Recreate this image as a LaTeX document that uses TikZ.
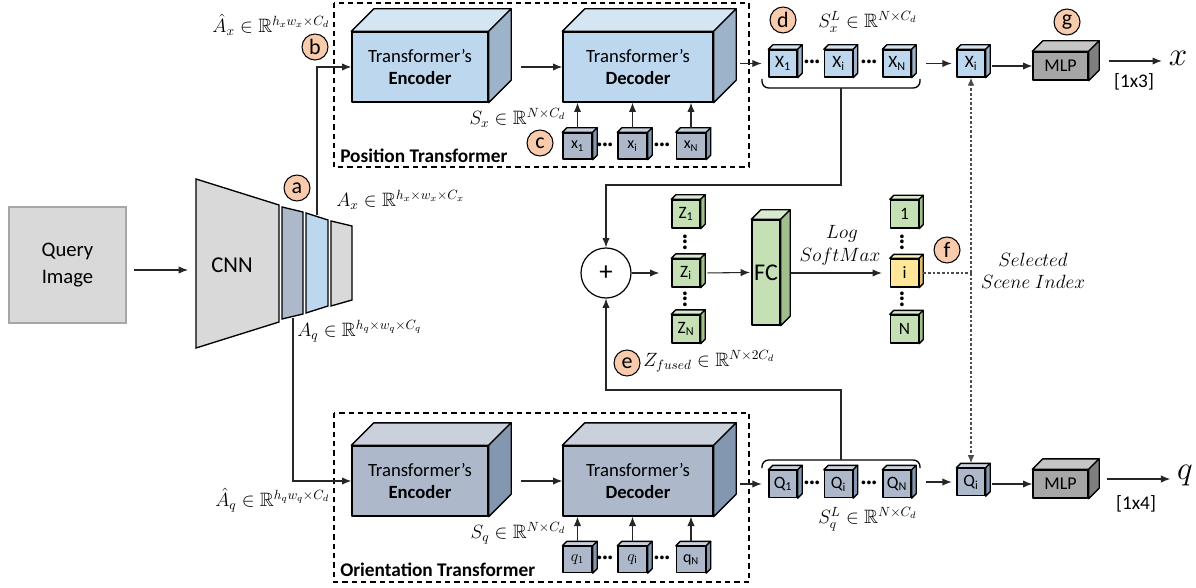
\documentclass[tikz,border=0pt]{standalone}
\usepackage{amsmath}
\usepackage{amssymb}
\usepackage{fontspec}
\setmainfont{Carlito}
\usetikzlibrary{arrows.meta}
\definecolor{lblue}{HTML}{BDD7EE}
\definecolor{lblueside}{HTML}{9DB3CA}
\definecolor{gblue}{HTML}{ADB9CA}
\definecolor{gblueside}{HTML}{8497B0}
\definecolor{lgreen}{HTML}{C5E0B4}
\definecolor{lgreenside}{HTML}{9FC08B}
\definecolor{lyellow}{HTML}{FFE699}
\definecolor{lyellowside}{HTML}{DCC070}
\definecolor{mgray}{HTML}{A6A6A6}
\definecolor{mgrayside}{HTML}{7F7F7F}
\definecolor{cnngray}{HTML}{D9D9D9}
\definecolor{peach}{HTML}{F8CBAD}
\newcommand\cuboid[7][]{%
  \node[cubefront, fill=#5, #1] (#2) at #3 {#7};
  \filldraw[cubeedge, fill=#5!65!white] (#2.north west) -- ++(#4,-#4) -- ([shift={(#4,-#4)}]#2.north east) -- (#2.north east) -- cycle;
  \filldraw[cubeedge, fill=#6] (#2.north east) -- ++(#4,-#4) -- ([shift={(#4,-#4)}]#2.south east) -- (#2.south east) -- cycle;
}
\newcommand\hdotsym{\bfseries ···}
\begin{document}
\begin{tikzpicture}[x=0.75pt,y=-0.75pt,
  arr/.style={-{Latex[length=7pt,width=5.5pt]}, line width=0.8pt, draw=black!85},
  cubeedge/.style={draw=black, line width=1pt, line join=round},
  cubefront/.style={cubeedge, inner sep=0pt, align=center},
  bigbox/.style={minimum width=102pt, minimum height=52.5pt, font=\fontsize{14}{17}\selectfont},
  decbox/.style={bigbox, minimum width=112.5pt},
  smallcube/.style={minimum width=21.75pt, minimum height=19.5pt, font=\fontsize{12}{12}\selectfont},
  xcube/.style={minimum width=21pt, minimum height=20.25pt, font=\fontsize{13}{13}\selectfont},
  zcube/.style={minimum width=21pt, minimum height=21pt, font=\fontsize{13}{13}\selectfont},
  mlpbox/.style={minimum width=41.25pt, minimum height=21pt, font=\fontsize{13.5}{13.5}\selectfont},
  fcbox/.style={minimum width=21pt, minimum height=78.75pt, font=\fontsize{18}{18}\selectfont},
  tag/.style={circle, draw=black, line width=0.8pt, fill=peach, minimum size=19.5pt, inner sep=0pt, font=\fontsize{16.5}{16.5}\selectfont},
  dashbox/.style={draw=black, line width=1pt, dash pattern=on 4pt off 3pt},
  dotline/.style={draw=black!70, line width=0.8pt, dash pattern=on 2pt off 1.5pt},
  lab/.style={inner sep=0pt, font=\fontsize{14.5}{17}\selectfont},
  dotsym/.style={inner sep=0pt, font=\fontsize{15}{15}\selectfont},
  vdotsym/.style={dotsym, rotate=90},
  title/.style={anchor=west, inner sep=0pt, font=\fontsize{14.5}{14.5}\selectfont\bfseries}]
\useasboundingbox (0,0) rectangle (1196,588);

% ---------- Query image and CNN ----------
\node[draw=black!35, line width=1.5pt, fill=cnngray, minimum width=87.75pt, minimum height=87pt,
      align=center, font=\fontsize{15.5}{20}\selectfont] (query) at (67.5,265) {Query\\Image};
\coordinate (cnnL) at (196,270);
\draw[arr, shorten <=5pt, shorten >=6pt] (query.east |- cnnL) -- (cnnL);
\filldraw[fill=cnngray, line width=1pt] (196,179) -- (279,205) -- (279,322) -- (196,348) -- cycle;
\node[font=\fontsize{17}{17}\selectfont] (cnn) at (232,265) {CNN};
\filldraw[fill=gblue, line width=1pt] (282,207) -- (303,212) -- (303,314) -- (282,319) -- cycle;
\filldraw[fill=lblue, line width=1pt] (306,213) -- (328,220) -- (328,306) -- (306,313) -- cycle;
\filldraw[fill=cnngray, line width=1pt] (331,221) -- (352,226) -- (352,300) -- (331,306) -- cycle;
\coordinate (l2top) at (317,215);
\coordinate (l1bot) at (293,318);
\node[tag] (ta) at (297,188) {a};

\node[lab, anchor=west] (lAx) at (336,200) {$A_x \in \mathbb{R}^{h_x\times w_x\times C_x}$};
\node[lab, anchor=west] (lAq) at (297,331) {$A_q \in \mathbb{R}^{h_q\times w_q\times C_q}$};
\node[lab, anchor=east] (lAhx) at (330,25) {$\hat{A}_x \in \mathbb{R}^{h_x w_x\times C_d}$};
\node[lab, anchor=east] (lAhq) at (330,500) {$\hat{A}_q \in \mathbb{R}^{h_q w_q\times C_d}$};
\node[tag] (tb) at (315,47) {b};

% ---------- Position transformer ----------
\draw[dashbox] (334,3) rectangle (749,167);
\node[title] (pt) at (340,156) {Position Transformer};
\cuboid[bigbox]{encX}{(420,67)}{22.5}{lblue}{lblueside}{Transformer’s\\\textbf{Encoder}}
\cuboid[decbox]{decX}{(638,67)}{22.5}{lblue}{lblueside}{Transformer’s\\\textbf{Decoder}}
\draw[arr] (l2top) |- (encX.west);
\draw[arr, shorten <=24pt] (encX.east) -- (decX.west);
\cuboid[smallcube]{x1}{(577.5,146)}{4.5}{gblue}{gblueside}{x\textsubscript{1}}
\cuboid[smallcube]{xi}{(632.5,146)}{4.5}{gblue}{gblueside}{x\textsubscript{i}}
\cuboid[smallcube]{xN}{(691,146)}{4.5}{gblue}{gblueside}{x\textsubscript{N}}
\node[dotsym] (dx1) at (605,147) {\hdotsym};
\node[dotsym] (dx2) at (662,147) {\hdotsym};
\foreach \n in {x1,xi,xN} \draw[arr, shorten <=3.5pt] (\n.north) -- (\n.north |- decX.south);
\node[lab, anchor=east] (lSx) at (566,118) {$S_x \in \mathbb{R}^{N\times C_d}$};
\node[tag] (tc) at (540,143) {c};

% ---------- Orientation transformer ----------
\draw[dashbox] (334,413) rectangle (749,582);
\node[title] (ot) at (340,570) {Orientation Transformer};
\cuboid[bigbox]{encQ}{(420,481)}{22.5}{gblue}{gblueside}{Transformer’s\\\textbf{Encoder}}
\cuboid[decbox]{decQ}{(638,481)}{22.5}{gblue}{gblueside}{Transformer’s\\\textbf{Decoder}}
\draw[arr] (l1bot) |- (encQ.west);
\draw[arr, shorten <=24pt] (encQ.east) -- (decQ.west);
\cuboid[smallcube]{q1}{(577.5,559.5)}{4.5}{gblue}{gblueside}{$q_1$}
\cuboid[smallcube]{qi}{(632.5,559.5)}{4.5}{gblue}{gblueside}{$q_{\mathrm{i}}$}
\cuboid[smallcube]{qN}{(691,559.5)}{4.5}{gblue}{gblueside}{q\textsubscript{N}}
\node[dotsym] (dq1) at (605,560) {\hdotsym};
\node[dotsym] (dq2) at (662,560) {\hdotsym};
\foreach \n in {q1,qi,qN} \draw[arr, shorten <=3.5pt] (\n.north) -- (\n.north |- decQ.south);
\node[lab, anchor=east] (lSq) at (566,533) {$S_q \in \mathbb{R}^{N\times C_d}$};

% ---------- X outputs ----------
\cuboid[xcube]{X1}{(783,63.5)}{4.5}{lblue}{lblueside}{X\textsubscript{1}}
\cuboid[xcube]{Xi}{(838.5,63.5)}{4.5}{lblue}{lblueside}{X\textsubscript{i}}
\cuboid[xcube]{XN}{(897,63.5)}{4.5}{lblue}{lblueside}{X\textsubscript{N}}
\node[dotsym] (dX1) at (812,64) {\hdotsym};
\node[dotsym] (dX2) at (869,64) {\hdotsym};
\draw[arr, shorten <=20pt, shorten >=5pt] (decX.east |- X1.west) -- (X1.west);
\draw[line width=1pt, rounded corners=5pt] (762,79) -- (762,88) -- (920,88) -- (920,79);
\coordinate (brX) at (841,88);
\node[tag] (td) at (783,20) {d};
\node[lab, anchor=west] (lSxL) at (818,22) {$S_x^L \in \mathbb{R}^{N\times C_d}$};
\cuboid[xcube]{Xsel}{(971,63.5)}{4.5}{lblue}{lblueside}{X\textsubscript{i}}
\draw[arr, shorten <=11pt, shorten >=3.5pt] (XN.east) -- (Xsel.west);
\cuboid[mlpbox]{mlpX}{(1060.5,66)}{10.5}{mgray}{mgrayside}{MLP}
\draw[arr, shorten <=5pt] (Xsel.east |- mlpX.west) -- (mlpX.west);
\node[tag] (tg) at (1067,22) {g};
\node[inner sep=0pt, font=\fontsize{28}{28}\selectfont] (xout) at (1178,58) {$x$};
\draw[arr, shorten <=15pt, shorten >=5pt] ([yshift=3.75pt]mlpX.east) -- ([yshift=3.75pt]mlpX.east -| xout.west);
\node[inner sep=0pt, font=\fontsize{14.5}{14.5}\selectfont] (l13) at (1134,82) {[1x3]};

% ---------- Q outputs ----------
\cuboid[xcube]{Q1}{(783,484)}{4.5}{gblue}{gblueside}{Q\textsubscript{1}}
\cuboid[xcube]{Qi}{(838.5,484)}{4.5}{gblue}{gblueside}{Q\textsubscript{i}}
\cuboid[xcube]{QN}{(897,484)}{4.5}{gblue}{gblueside}{Q\textsubscript{N}}
\node[dotsym] (dQ1) at (812,485) {\hdotsym};
\node[dotsym] (dQ2) at (869,485) {\hdotsym};
\draw[arr, shorten <=20pt, shorten >=5pt] (decQ.east |- Q1.west) -- (Q1.west);
\draw[line width=1pt, rounded corners=5pt] (762,468) -- (762,460) -- (920,460) -- (920,468);
\coordinate (brQ) at (841,460);
\node[lab, anchor=west] (lSqL) at (818,519) {$S_q^L \in \mathbb{R}^{N\times C_d}$};
\cuboid[xcube]{Qsel}{(971,482)}{4.5}{gblue}{gblueside}{Q\textsubscript{i}}
\draw[arr, shorten <=11pt, shorten >=3.5pt] (QN.east |- Qsel.west) -- (Qsel.west);
\cuboid[mlpbox]{mlpQ}{(1060.5,484)}{10.5}{mgray}{mgrayside}{MLP}
\draw[arr, shorten <=5pt] (Qsel.east |- mlpQ.west) -- (mlpQ.west);
\node[inner sep=0pt, font=\fontsize{28}{28}\selectfont] (qout) at (1185,476) {$q$};
\draw[arr, shorten <=14pt, shorten >=5pt] ([yshift=3.75pt]mlpQ.east) -- ([yshift=3.75pt]mlpQ.east -| qout.west);
\node[inner sep=0pt, font=\fontsize{14.5}{14.5}\selectfont] (l14) at (1136,504) {[1x4]};

% ---------- Fusion ----------
\node[circle, draw=black, line width=0.9pt, fill=white, minimum size=37.5pt, inner sep=0pt, font=\fontsize{20}{20}\selectfont] (plus) at (606,273) {+};
\draw[arr] (brX) -- ++(0,97) -| (plus.north);
\draw[arr] (brQ) -- ++(0,-70) -| (plus.south);
\cuboid[zcube]{Z1}{(686,214)}{4.5}{lgreen}{lgreenside}{Z\textsubscript{1}}
\cuboid[zcube]{Zi}{(686,273)}{4.5}{lgreen}{lgreenside}{Z\textsubscript{i}}
\cuboid[zcube]{ZN}{(686,329)}{4.5}{lgreen}{lgreenside}{Z\textsubscript{N}}
\node[vdotsym] (dZ1) at (687,242) {\hdotsym};
\node[vdotsym] (dZ2) at (687,299) {\hdotsym};
\draw[arr, shorten >=9pt] (plus.east) -- (Zi.west);
\cuboid[fcbox]{fc}{(766,272.5)}{9.5}{lgreen}{lgreenside}{FC}
\draw[arr, shorten <=5pt, shorten >=1pt] (Zi.east) -- (fc.west);
\node[tag] (te) at (627,363) {e};
\node[lab, anchor=west] (lZ) at (643,361) {$Z_{fused} \in \mathbb{R}^{N\times 2C_d}$};
\cuboid[zcube]{S1}{(904.5,214)}{4}{lgreen}{lgreenside}{1}
\cuboid[zcube]{Si}{(904.5,273)}{4}{lyellow}{lyellowside}{i}
\cuboid[zcube]{SN}{(904.5,329)}{4}{lgreen}{lgreenside}{N}
\node[vdotsym] (dS1) at (904,242) {\hdotsym};
\node[vdotsym] (dS2) at (904,299) {\hdotsym};
\draw[arr, shorten <=7.5pt, shorten >=6pt] (fc.east |- Si.west) -- (Si.west);
\node[lab, font=\fontsize{14.5}{14.5}\selectfont] (lLog) at (842,234) {$Log$};
\node[lab, font=\fontsize{14.5}{14.5}\selectfont] (lSM) at (840,257) {$SoftMax$};
\node[tag] (tf) at (947,250) {f};
\coordinate (dsel) at (971,273);
\draw[dotline, shorten <=3pt] (Si.east) -- (dsel);
\draw[dotline, -{Latex[length=6pt,width=5pt]}] (dsel) -- (Xsel.south);
\draw[dotline, -{Latex[length=6pt,width=5pt]}, shorten >=3.5pt] (dsel) -- (Qsel.north);
\node[lab, font=\fontsize{15}{15}\selectfont] (lSel) at (1033,260) {$Selected$};
\node[lab, font=\fontsize{15}{15}\selectfont] (lSci) at (1033,282) {$Scene\ Index$};
\end{tikzpicture}
\end{document}
